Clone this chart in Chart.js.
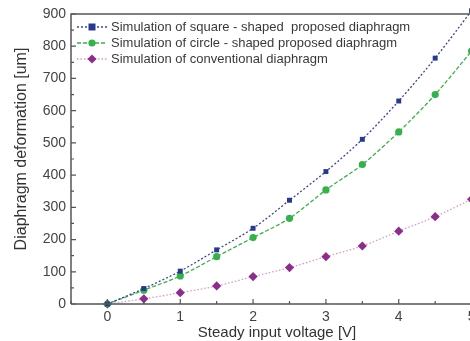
<!DOCTYPE html>
<html>
<head>
<meta charset="utf-8">
<script src="https://cdn.jsdelivr.net/npm/chart.js@4"></script>
<style>
html,body{margin:0;padding:0;background:#fff;overflow:hidden;width:470px;height:341px;}
#wrap{position:absolute;left:0;top:0;width:520px;height:341px;}
</style>
</head>
<body>
<div id="wrap"><canvas id="grafico" width="520" height="341"></canvas></div>
<script>
// valores
const voltagens = [0, 0.5, 1, 1.5, 2, 2.5, 3, 3.5, 4, 4.5, 5];
const quadrado = [0, 48, 102, 168, 235, 322, 411, 511, 630, 763, 910];
const circulo = [0, 43, 87, 147, 206, 266, 354, 433, 534, 650, 785];
const convencional = [0, 16, 35, 56, 85, 113, 147, 180, 226, 271, 325];
const nomes = [
  'Simulation of square - shaped  proposed diaphragm',
  'Simulation of circle - shaped proposed diaphragm',
  'Simulation of conventional diaphragm'
];
const ticksX = [0, 1, 2, 3, 4, 5];
const tituloX = 'Steady input voltage [V]';
const tituloY = 'Diaphragm deformation [um]';

const fonte = 'Liberation Sans, Arial, sans-serif';

function pontos(ys){ return voltagens.map((x,i)=>({x:x,y:ys[i]})); }

// legenda dentro do grafico + ticks internos + moldura + titulos
const extras = {
  id:'extras',
  afterDraw(chart){
    const ctx = chart.ctx, a = chart.chartArea;
    const sx = chart.scales.x, sy = chart.scales.y;
    ctx.save();
    ctx.strokeStyle = '#555';
    ctx.lineWidth = 1.5;
    ctx.beginPath();
    ctx.moveTo(a.left, a.bottom); ctx.lineTo(a.left, a.top); ctx.lineTo(a.right, a.top);
    ctx.moveTo(a.left, a.bottom); ctx.lineTo(a.right, a.bottom);
    ctx.stroke();
    ctx.lineWidth = 1.2;
    ctx.beginPath();
    for(let v=0; v<=900; v+=50){
      const y = sy.getPixelForValue(v), l = v%100===0 ? 5 : 3;
      ctx.moveTo(a.left, y); ctx.lineTo(a.left+l, y);
    }
    for(let v=-0.5; v<=5.5; v+=0.5){
      const x = sx.getPixelForValue(v), l = Number.isInteger(v) ? 5 : 3;
      ctx.moveTo(x, a.bottom); ctx.lineTo(x, a.bottom-l);
    }
    ctx.stroke();

    // legenda
    ctx.font = '13px ' + fonte;
    ctx.textBaseline = 'middle';
    chart.data.datasets.forEach((ds,i)=>{
      const y = 27 + i*16;
      ctx.strokeStyle = ds.borderColor;
      ctx.lineWidth = 1.3;
      ctx.setLineDash(ds.borderDash);
      ctx.beginPath(); ctx.moveTo(77, y); ctx.lineTo(107, y); ctx.stroke();
      ctx.setLineDash([]);
      ctx.fillStyle = ds.pointBackgroundColor;
      const r = ds.pointRadius;
      ctx.beginPath();
      if(ds.pointStyle==='rect'){ ctx.rect(92-r, y-r, 2*r, 2*r); }
      else if(ds.pointStyle==='rectRot'){ ctx.moveTo(92, y-r); ctx.lineTo(92+r, y); ctx.lineTo(92, y+r); ctx.lineTo(92-r, y); ctx.closePath(); }
      else { ctx.arc(92, y, r, 0, Math.PI*2); }
      ctx.fill();
      ctx.fillStyle = '#3a3a3a';
      ctx.fillText(ds.label, 111, y);
    });

    // titulos dos eixos
    ctx.textAlign = 'center';
    ctx.fillStyle = '#333';
    ctx.font = '15px ' + fonte;
    ctx.fillText(tituloX, 277, 333);
    ctx.font = '16px ' + fonte;
    ctx.translate(22, 149);
    ctx.rotate(-Math.PI/2);
    ctx.fillText(tituloY, 0, 0);
    ctx.restore();
  }
};

new Chart(document.getElementById('grafico'), {
  type:'line',
  data:{
    datasets:[
      {label:nomes[0], data:pontos(quadrado), borderColor:'#3d4590', borderDash:[2,2], borderWidth:1.3,
       pointStyle:'rect', pointRadius:3.5, pointBackgroundColor:'#283a8c', pointBorderWidth:0, tension:0.3},
      {label:nomes[1], data:pontos(circulo), borderColor:'#3fae4c', borderDash:[4,2], borderWidth:1.3,
       pointStyle:'circle', pointRadius:3.6, pointBackgroundColor:'#36b04a', pointBorderWidth:0, tension:0.3},
      {label:nomes[2], data:pontos(convencional), borderColor:'#d49ac9', borderDash:[1.5,2], borderWidth:1.3,
       pointStyle:'rectRot', pointRadius:4.6, pointBackgroundColor:'#8d2d8a', pointBorderWidth:0, tension:0.3}
    ]
  },
  options:{
    responsive:false,
    animation:false,
    devicePixelRatio:1,
    clip:false,
    layout:{padding:{left:0, top:14, right:12, bottom:0}},
    plugins:{legend:{display:false}, tooltip:{enabled:false}},
    scales:{
      x:{
        type:'linear', min:-0.5, max:5.5,
        afterBuildTicks(s){ s.ticks = ticksX.map(v=>({value:v})); },
        afterFit(s){ s.height = 37; },
        grid:{display:false, drawTicks:false},
        border:{display:false},
        ticks:{padding:5, color:'#444', font:{family:fonte, size:14}}
      },
      y:{
        min:0, max:900,
        afterFit(s){ s.width = 71; },
        grid:{display:false, drawTicks:false},
        border:{display:false},
        ticks:{stepSize:100, padding:5, color:'#444', font:{family:fonte, size:14}}
      }
    }
  },
  plugins:[extras]
});
</script>
</body>
</html>
